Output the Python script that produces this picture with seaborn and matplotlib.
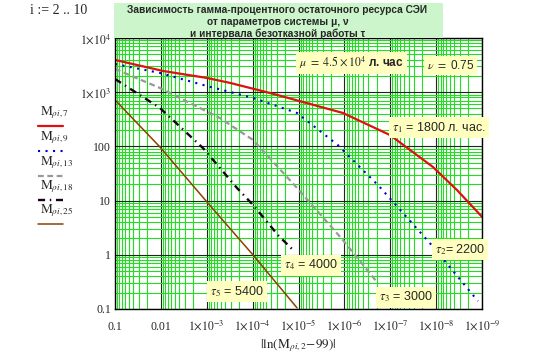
import numpy as np
import seaborn as sns
import matplotlib.pyplot as plt
import matplotlib.ticker as mtick
from matplotlib.lines import Line2D
from matplotlib.patches import Rectangle

# values: x = |ln(M_{ρi,2} - 99)|, y = M_{ρi,k}
x_tau1 = [0.1, 9e-3, 1e-3, 3.1e-4, 4.2e-5, 1.08e-6, 1.02e-7, 1.18e-8, 3.54e-9, 1e-9]
y_tau1 = [3930, 2460, 1830, 1480, 966, 413, 162, 41.7, 15.7, 5.0]

x_tau2 = [0.1, 1.05e-2, 1e-3, 9.8e-5, 1.08e-5, 1.4e-6, 1.78e-7, 1.38e-8, 1.23e-9]
y_tau2 = [3310, 2260, 1300, 782, 413, 106, 18.6, 1.65, 0.14]

x_tau3 = [0.1, 1.05e-2, 5.2e-4, 9.8e-5, 1.08e-5, 1.08e-6, 1.96e-7]
y_tau3 = [2680, 1195, 334, 131, 17.1, 1.87, 0.315]

x_tau4 = [0.1, 1.05e-2, 1.21e-3, 2.2e-4, 9.8e-5, 2.8e-5, 1.39e-5]
y_tau4 = [1750, 511, 93, 17.1, 8.3, 2.3, 1.28]

x_tau5 = [0.1, 1.05e-2, 9.9e-4, 9.8e-5, 1.08e-5]
y_tau5 = [718, 97.5, 9.4, 0.99, 0.105]

legend_labels = [r"$\mathrm{M}_{\rho i,7}$", r"$\mathrm{M}_{\rho i,9}$", r"$\mathrm{M}_{\rho i,13}$",
                 r"$\mathrm{M}_{\rho i,18}$", r"$\mathrm{M}_{\rho i,25}$"]

x_ticks = [1e-1, 1e-2, 1e-3, 1e-4, 1e-5, 1e-6, 1e-7, 1e-8, 1e-9]
x_tick_labels = ["0.1", "0.01", r"$1{\times}10^{-3}$", r"$1{\times}10^{-4}$", r"$1{\times}10^{-5}$",
                 r"$1{\times}10^{-6}$", r"$1{\times}10^{-7}$", r"$1{\times}10^{-8}$", r"$1{\times}10^{-9}$"]
y_ticks = [0.1, 1, 10, 100, 1e3, 1e4]
y_tick_labels = ["0.1", "1", "10", "100", r"$1{\times}10^{3}$", r"$1{\times}10^{4}$"]

tau_labels = [r"$\tau_1$ = 1800 л. час.", r"$\tau_2$= 2200", r"$\tau_3$ = 3000",
              r"$\tau_4$ = 4000", r"$\tau_5$ = 5400"]

sns.set_style("white")
plt.rcParams['font.family'] = ['Liberation Serif', 'DejaVu Serif']
plt.rcParams['mathtext.fontset'] = 'stix'

fig = plt.figure(figsize=(5.57, 3.59), dpi=100)
ax = fig.add_axes([0.2065, 0.1393, 0.659, 0.755])

styles = [
    dict(color="#e01010", linewidth=1.6, linestyle="-"),
    dict(color="#0000cc", linewidth=1.5, linestyle=(0, (1, 2.6))),
    dict(color="#999999", linewidth=1.6, linestyle=(0, (2.6, 1.6))),
    dict(color="#1a001a", linewidth=1.7, linestyle=(0, (3, 2, 0.6, 2))),
    dict(color="#8b4000", linewidth=1.1, linestyle="-"),
]
curves = [(x_tau1, y_tau1), (x_tau2, y_tau2), (x_tau3, y_tau3), (x_tau4, y_tau4), (x_tau5, y_tau5)]
for (xs, ys), st in zip(curves, styles):
    sns.lineplot(x=xs, y=ys, ax=ax, sort=False, estimator=None, **st)

ax.set_xscale('log')
ax.set_yscale('log')
ax.set_xlim(0.1, 1e-9)
ax.set_ylim(0.1, 1e4)

ax.set_xticks(x_ticks)
ax.set_xticklabels(x_tick_labels)
ax.set_yticks(y_ticks)
ax.set_yticklabels(y_tick_labels)
ax.xaxis.set_minor_locator(mtick.LogLocator(base=10, subs=np.arange(2, 10), numticks=100))
ax.yaxis.set_minor_locator(mtick.LogLocator(base=10, subs=np.arange(2, 10), numticks=100))
ax.xaxis.set_minor_formatter(mtick.NullFormatter())
ax.yaxis.set_minor_formatter(mtick.NullFormatter())

ax.set_axisbelow(True)
ax.grid(which='minor', color='#22dd22', linewidth=0.8)
ax.grid(which='major', color='#222222', linewidth=0.8)
ax.tick_params(which='both', length=0, labelsize=8.5)
ax.tick_params(axis='x', pad=15)
ax.tick_params(axis='y', pad=3)
for lbl in ax.get_xticklabels():
    lbl.set_va('baseline')
for sp in ax.spines.values():
    sp.set_color('black')
    sp.set_linewidth(1.0)

ax.set_xlabel(r"$|\ln(\mathrm{M}_{\rho i,2}\!-\!99)|$", fontsize=9.5, labelpad=3)

# annotations
box = dict(boxstyle='square,pad=0.25', facecolor='#ffffc0', edgecolor='none')
tau_pos = [(0.755, 0.668), (0.872, 0.218), (0.719, 0.044), (0.460, 0.162), (0.259, 0.063)]
for txt, (tx, ty) in zip(tau_labels, tau_pos):
    ax.text(tx, ty, txt, transform=ax.transAxes, ha='left', va='center', fontsize=9,
            family=['Liberation Sans', 'DejaVu Sans'], bbox=box, zorder=5, clip_on=False)
ax.text(0.501, 0.908, r"$\mu\ =\ 4.5\times10^{4}$ л. час", transform=ax.transAxes,
        ha='left', va='center', fontsize=8.5, family=['Liberation Sans', 'DejaVu Sans'],
        fontweight='bold', bbox=box, zorder=5)
ax.text(0.850, 0.900, r"$\nu\ =$ 0.75", transform=ax.transAxes, ha='left', va='center',
        fontsize=8.5, family=['Liberation Sans', 'DejaVu Sans'], bbox=box, zorder=5)

# title box
fig.add_artist(Rectangle((114 / 557, 1 - 38 / 359), 329 / 557, 35 / 359,
                         transform=fig.transFigure, facecolor='#ccf5cc', edgecolor='none'))
fig.text(0.498, 1 - 22 / 359,
         "Зависимость гамма-процентного остаточного ресурса СЭИ\n"
         "от параметров системы μ, ν\nи интервала безотказной работы τ",
         ha='center', va='center', fontsize=7.3, fontweight='bold', linespacing=1.2,
         family=['Liberation Sans', 'DejaVu Sans'])
fig.text(30 / 557, 1 - 10 / 359, "i := 2 .. 10", ha='left', va='center', fontsize=10)

# legend, Mathcad style: label above the line sample
legend_y = [113, 138, 163, 187, 211]
for lab, ly, st in zip(legend_labels, legend_y, styles):
    fig.text(40 / 557, 1 - ly / 359, lab, ha='left', va='center', fontsize=9.5)
    fig.add_artist(Line2D([38 / 557, 63 / 557], [1 - (ly + 13) / 359] * 2,
                          transform=fig.transFigure, **st))

fig.savefig("out.png", dpi=100)
